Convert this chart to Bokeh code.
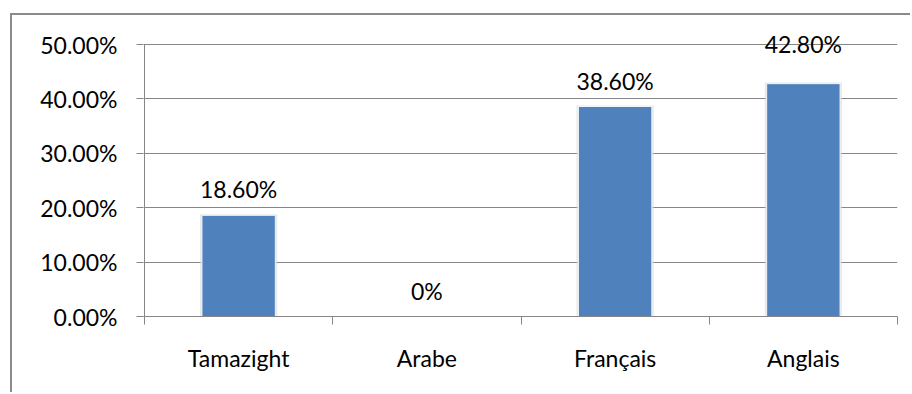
from bokeh.plotting import figure
from bokeh.models import (ColumnDataSource, Range1d, FixedTicker, NumeralTickFormatter, LabelSet)
from bokeh.core.properties import value
from bokeh.embed import file_html
from bokeh.resources import INLINE

# ---- data ----
categories = ["Tamazight", "Arabe", "Français", "Anglais"]
shares = [0.186, 0.0, 0.386, 0.428]
value_labels = ["18.60%", "0%", "38.60%", "42.80%"]
y_ticks = [0.0, 0.1, 0.2, 0.3, 0.4, 0.5]
y_max = 0.5

# ---- style ----
FONT = "Lato"
FS = "23px"
GRAY = "#868686"
BLUE = "#4F81BD"
label_lift = [26, 26, 26, 40]  # px above bar top

PX_PER_UNIT = 544.0       # 272 px for 0..50%
HEAD_PX = 29              # room above the 50% line inside the frame
CAT_PX = 188.25
PAD_X = 1.0 / CAT_PX      # one pixel left pad so the axis line is not clipped

xs = [i + 0.5 for i in range(len(categories))]
src = ColumnDataSource(dict(x=xs, top=shares, lab=value_labels, dy=label_lift,
                            shadow_top=[s + 0.002 if s > 0 else 0 for s in shares]))

p = figure(width=900, height=379, output_backend="svg", toolbar_location=None,
           x_range=Range1d(-PAD_X, len(categories)),
           y_range=Range1d(0, y_max + HEAD_PX / PX_PER_UNIT),
           min_border_left=131, min_border_right=15, min_border_top=0, min_border_bottom=78)
p.outline_line_color = None
p.background_fill_color = "white"
p.border_fill_color = "white"
p.styles = {"margin-left": "10px", "margin-top": "13px",
            "border-left": "2px solid #8a8a8a", "border-top": "2px solid #8a8a8a"}

# grid
p.xgrid.grid_line_color = None
p.ygrid.ticker = FixedTicker(ticks=y_ticks)
p.ygrid.grid_line_color = GRAY
p.ygrid.grid_line_width = 1

# y axis line (drawn as glyph so it stops at 50%)
p.segment(x0=[0], y0=[0], x1=[0], y1=[y_max], line_color=GRAY, line_width=1)

# bars with soft shadow
p.vbar(x="x", top="shadow_top", bottom=0, width=0.41, source=src,
       fill_color="#d9d9d9", fill_alpha=0.6, line_color=None)
p.vbar(x="x", top="top", bottom=0, width=0.39, source=src,
       fill_color=BLUE, line_color="#f4f7fb", line_width=1)

# value labels
labels = LabelSet(x="x", y="top", text="lab", source=src, y_offset="dy",
                  text_align="center", text_baseline="middle",
                  text_font=value(FONT), text_font_size=value(FS), text_color="black")
p.add_layout(labels)

# y axis
ya = p.yaxis[0]
ya.ticker = FixedTicker(ticks=y_ticks)
ya.formatter = NumeralTickFormatter(format="0.00%")
ya.axis_line_color = None
ya.major_tick_line_color = GRAY
ya.major_tick_out = 7
ya.major_tick_in = 0
ya.minor_tick_line_color = None
ya.major_label_text_font = FONT
ya.major_label_text_font_size = FS
ya.major_label_text_color = "black"
ya.major_label_standoff = 19

# x axis: labels at centers, ticks at category boundaries
xa = p.xaxis[0]
xa.ticker = FixedTicker(ticks=xs, minor_ticks=list(range(len(categories) + 1)))
xa.major_label_overrides = {x: c for x, c in zip(xs, categories)}
xa.axis_line_color = GRAY
xa.major_tick_line_color = None
xa.major_tick_out = 0
xa.major_tick_in = 0
xa.minor_tick_line_color = GRAY
xa.minor_tick_out = 8
xa.minor_tick_in = 0
xa.major_label_text_font = FONT
xa.major_label_text_font_size = FS
xa.major_label_text_color = "black"
xa.major_label_standoff = 19

open("out.html", "w").write(file_html(p, INLINE))
